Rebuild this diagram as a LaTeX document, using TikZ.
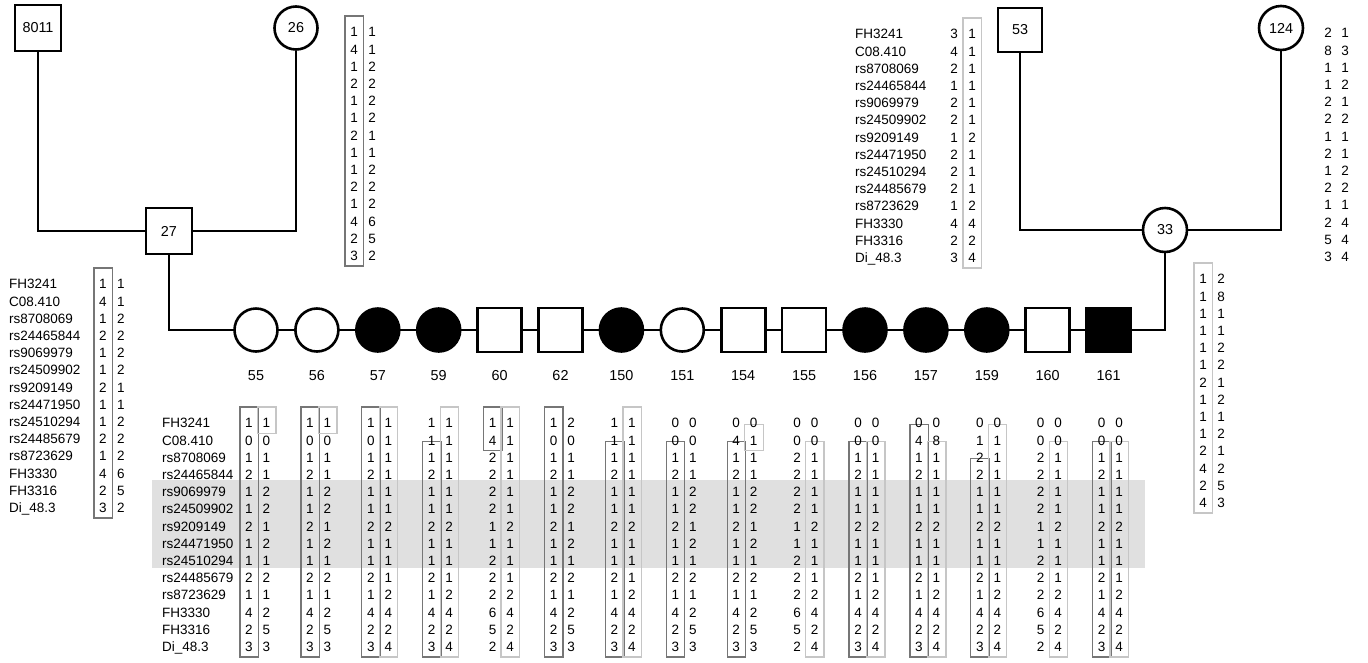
\documentclass[tikz,border=0pt]{standalone}
\usepackage{fontspec}
\setmainfont{Liberation Sans}
\definecolor{boxdark}{HTML}{767676}
\definecolor{boxlight}{HTML}{C6C6C6}
\definecolor{band}{HTML}{E0E0E0}
\tikzset{
  every node/.style={font=\fontsize{14.4}{17}\selectfont},
  hap/.style={inner sep=0pt, text height=9.7pt, text depth=0pt, font=\fontsize{13.5}{16}\selectfont},
  mk/.style={hap, anchor=west},
  pline/.style={line width=2.6pt},
  ind/.style={draw, line width=2.6pt, fill=white, inner sep=0pt},
  mo/.style={ind, rectangle, minimum size=44pt},
  fo/.style={ind, circle, minimum size=43pt},
  mf/.style={mo, fill=black},
  ff/.style={fo, fill=black},
  darkbox/.style={draw=boxdark, line width=1.3pt},
  lightbox/.style={draw=boxlight, line width=1.3pt},
  lab/.style={inner sep=0pt},
}
\newcommand{\rs}{17.2}
\newcommand{\mkcol}[3]{%
  \foreach \m [count=\i from 0] in {FH3241,C08.410,rs8708069,rs24465844,rs9069979,rs24509902,rs9209149,rs24471950,rs24510294,rs24485679,rs8723629,FH3330,FH3316,Di\_48.3}
    \node[mk] (#1-\i) at (#2,{#3+\i*\rs}) {\m};}
\newcommand{\hcol}[4]{%
  \foreach \v [count=\i from 0] in {#4}
    \node[hap] (#1-\i) at (#2,{#3+\i*\rs}) {\v};}
\newcommand{\hbx}[5]{%
  \draw[#5] ({#1-9},{#2+#3*\rs-16}) rectangle ({#1+9.5},{#2+#4*\rs+10.5});}
\begin{document}
\begin{tikzpicture}[x=1pt,y=-1pt]
\useasboundingbox (0,0) rectangle (1368,662);
% shaded band
\fill[band] (152,480) rectangle (1145,568);

% founders
\node[mo, minimum size=46pt] (p8011) at (38,28) {8011};
\node[fo] (p26) at (296,28) {26};
\node[mo, minimum size=46pt] (p27) at (169,231) {27};
\node[mo] (p53) at (1020,30) {53};
\node[fo, minimum size=44pt] (p124) at (1281,28) {124};
\node[fo, minimum size=44pt] (p33) at (1165,230) {33};

% connectors (drawn first, shapes on top)
\coordinate (m1) at (38,231);
\coordinate (m2) at (296,231);
\coordinate (m3) at (1020,230);
\coordinate (m4) at (1281,230);
\coordinate (s1) at (169,330);
\coordinate (s2) at (1165,330);
\draw[pline] (p8011.south) -- (m1) -- (p27.west);
\draw[pline] (p27.east) -- (m2) -- (p26.south);
\draw[pline] (p53.south) -- (m3) -- (p33.west);
\draw[pline] (p33.east) -- (m4) -- (p124.south);
\draw[pline] (p27.south) -- (s1) -- (s2) -- (p33.south);

% children
\foreach \n/\s/\x in {55/fo/256,56/fo/316.9,57/ff/377.8,59/ff/438.7,60/mo/499.6,62/mo/560.5,150/ff/621.4,151/fo/682.3,154/mo/743.2,155/mo/804.1,156/ff/865,157/ff/925.9,159/ff/986.8,160/mo/1047.7,161/mf/1108.6}{
  \node[\s] (c\n) at (\x,330) {};
  \node[lab] (l\n) at (\x,376) {\n};
}

% haplotypes of 26
\hbx{354}{32}{0}{13}{darkbox}
\hcol{h26a}{354}{32}{1,4,1,2,1,1,2,1,1,2,1,4,2,3}
\hcol{h26b}{372}{32}{1,1,2,2,2,2,1,1,2,2,2,6,5,2}

% haplotypes of 27
\mkcol{k27}{9}{284}
\hbx{103}{284}{0}{13}{darkbox}
\hcol{h27a}{103}{284}{1,4,1,2,1,1,2,1,1,2,1,4,2,3}
\hcol{h27b}{121}{284}{1,1,2,2,2,2,1,1,2,2,2,6,5,2}

% haplotypes of 53
\mkcol{k53}{855}{34}
\hbx{972}{34}{0}{13}{lightbox}
\hcol{h53a}{954}{34}{3,4,2,1,2,2,1,2,2,2,1,4,2,3}
\hcol{h53b}{972}{34}{1,1,1,1,1,1,2,1,1,1,2,4,2,4}

% haplotypes of 124
\hcol{h124a}{1328}{33}{2,8,1,1,2,2,1,2,1,2,1,2,5,3}
\hcol{h124b}{1345}{33}{1,3,1,2,1,2,1,1,2,2,1,4,4,4}

% haplotypes of 33
\hbx{1203}{279}{0}{13}{lightbox}
\hcol{h33a}{1203}{279}{1,1,1,1,1,1,2,1,1,1,2,4,2,4}
\hcol{h33b}{1221}{279}{2,8,1,1,2,2,1,2,1,2,1,2,5,3}

% children haplotypes
\mkcol{kc}{162}{423}
% 55
\hbx{249}{423}{0}{13}{darkbox}\hbx{266.5}{423}{0}{0}{lightbox}
\hcol{a55}{249}{423}{1,0,1,2,1,1,2,1,1,2,1,4,2,3}
\hcol{b55}{266.5}{423}{1,0,1,1,2,2,1,2,1,2,1,2,5,3}
% 56
\hbx{309.9}{423}{0}{13}{darkbox}\hbx{327.4}{423}{0}{0}{lightbox}
\hcol{a56}{309.9}{423}{1,0,1,2,1,1,2,1,1,2,1,4,2,3}
\hcol{b56}{327.4}{423}{1,0,1,1,2,2,1,2,1,2,1,2,5,3}
% 57
\hbx{370.8}{423}{0}{13}{darkbox}\hbx{388.3}{423}{0}{13}{lightbox}
\hcol{a57}{370.8}{423}{1,0,1,2,1,1,2,1,1,2,1,4,2,3}
\hcol{b57}{388.3}{423}{1,1,1,1,1,1,2,1,1,1,2,4,2,4}
% 59
\hbx{431.7}{423}{2}{13}{darkbox}\hbx{449.2}{423}{0}{13}{lightbox}
\hcol{a59}{431.7}{423}{1,1,1,2,1,1,2,1,1,2,1,4,2,3}
\hcol{b59}{449.2}{423}{1,1,1,1,1,1,2,1,1,1,2,4,2,4}
% 60
\hbx{492.6}{423}{0}{1}{darkbox}\hbx{510.1}{423}{0}{13}{lightbox}
\hcol{a60}{492.6}{423}{1,4,2,2,2,2,1,1,2,2,2,6,5,2}
\hcol{b60}{510.1}{423}{1,1,1,1,1,1,2,1,1,1,2,4,2,4}
% 62
\hbx{553.5}{423}{0}{13}{darkbox}
\hcol{a62}{553.5}{423}{1,0,1,2,1,1,2,1,1,2,1,4,2,3}
\hcol{b62}{571}{423}{2,0,1,1,2,2,1,2,1,2,1,2,5,3}
% 150
\hbx{614.4}{423}{2}{13}{darkbox}\hbx{631.9}{423}{0}{13}{lightbox}
\hcol{a150}{614.4}{423}{1,1,1,2,1,1,2,1,1,2,1,4,2,3}
\hcol{b150}{631.9}{423}{1,1,1,1,1,1,2,1,1,1,2,4,2,4}
% 151
\hbx{675.3}{423}{2}{13}{darkbox}
\hcol{a151}{675.3}{423}{0,0,1,2,1,1,2,1,1,2,1,4,2,3}
\hcol{b151}{692.8}{423}{0,0,1,1,2,2,1,2,1,2,1,2,5,3}
% 154
\hbx{736.2}{423}{2}{13}{darkbox}\hbx{753.7}{423}{1}{1}{lightbox}
\hcol{a154}{736.2}{423}{0,4,1,2,1,1,2,1,1,2,1,4,2,3}
\hcol{b154}{753.7}{423}{0,1,1,1,2,2,1,2,1,2,1,2,5,3}
% 155
\hbx{814.6}{423}{2}{13}{lightbox}
\hcol{a155}{797.1}{423}{0,0,2,2,2,2,1,1,2,2,2,6,5,2}
\hcol{b155}{814.6}{423}{0,0,1,1,1,1,2,1,1,1,2,4,2,4}
% 156
\hbx{858}{423}{2}{13}{darkbox}\hbx{875.5}{423}{2}{13}{lightbox}
\hcol{a156}{858}{423}{0,0,1,2,1,1,2,1,1,2,1,4,2,3}
\hcol{b156}{875.5}{423}{0,0,1,1,1,1,2,1,1,1,2,4,2,4}
% 157
\hbx{918.9}{423}{1}{13}{darkbox}\hbx{936.4}{423}{2}{13}{lightbox}
\hcol{a157}{918.9}{423}{0,4,1,2,1,1,2,1,1,2,1,4,2,3}
\hcol{b157}{936.4}{423}{0,8,1,1,1,1,2,1,1,1,2,4,2,4}
% 159
\hbx{979.8}{423}{3}{13}{darkbox}\hbx{997.3}{423}{1}{13}{lightbox}
\hcol{a159}{979.8}{423}{0,1,2,2,1,1,2,1,1,2,1,4,2,3}
\hcol{b159}{997.3}{423}{0,1,1,1,1,1,2,1,1,1,2,4,2,4}
% 160
\hbx{1058.2}{423}{2}{13}{lightbox}
\hcol{a160}{1040.7}{423}{0,0,2,2,2,2,1,1,2,2,2,6,5,2}
\hcol{b160}{1058.2}{423}{0,0,1,1,1,1,2,1,1,1,2,4,2,4}
% 161
\hbx{1101.6}{423}{2}{13}{darkbox}\hbx{1119.1}{423}{2}{13}{lightbox}
\hcol{a161}{1101.6}{423}{0,0,1,2,1,1,2,1,1,2,1,4,2,3}
\hcol{b161}{1119.1}{423}{0,0,1,1,1,1,2,1,1,1,2,4,2,4}
\end{tikzpicture}
\end{document}
